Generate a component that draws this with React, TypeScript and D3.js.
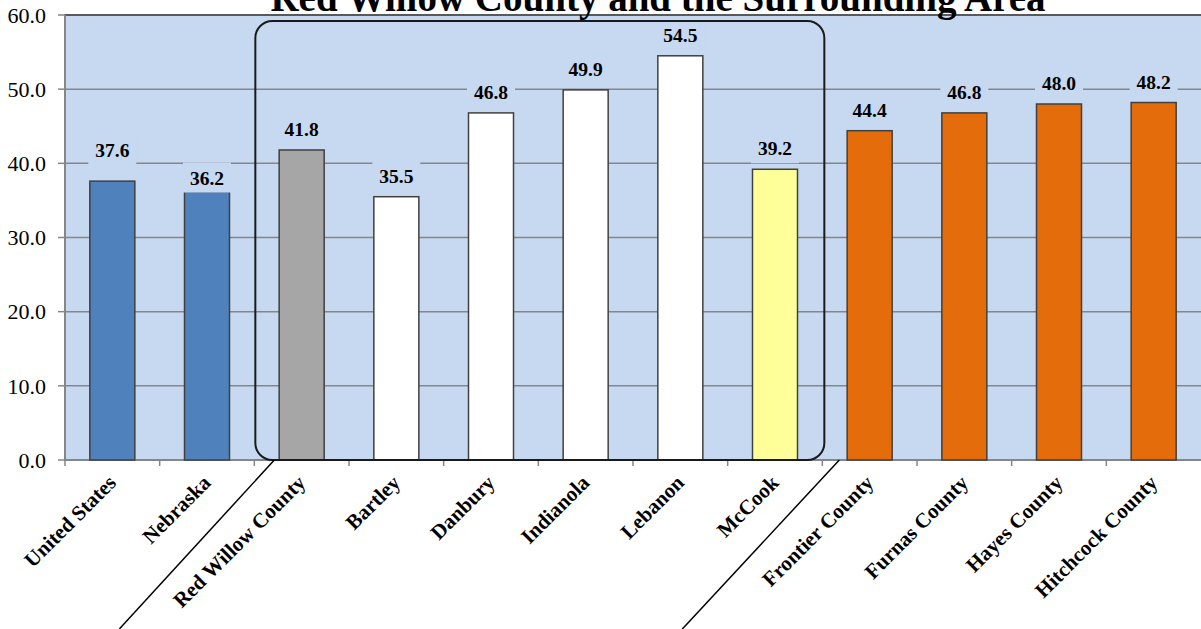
import React from "react";
import * as d3 from "d3";

const categories = [
  "United States", "Nebraska", "Red Willow County", "Bartley", "Danbury",
  "Indianola", "Lebanon", "McCook", "Frontier County", "Furnas County",
  "Hayes County", "Hitchcock County",
];
const values = [37.6, 36.2, 41.8, 35.5, 46.8, 49.9, 54.5, 39.2, 44.4, 46.8, 48.0, 48.2];
const barColors = [
  "#4f81bd", "#4f81bd", "#a6a6a6", "#ffffff", "#ffffff", "#ffffff", "#ffffff",
  "#ffff99", "#e46c0a", "#e46c0a", "#e46c0a", "#e46c0a",
];
const yTicks = [0, 10, 20, 30, 40, 50, 60];
// extra vertical nudge (px) for a few labels that were moved by hand in the original
const labelNudge = [-10, 7, 0, 0, 0, 0, 0, 0, 0, 0, 0, 0];
const title = "Red Willow County and the Surrounding Area";

const W = 1201;
const H = 629;
const M = { left: 65, right: 0, top: 15, bottom: 169 };
const FONT = "'Times New Roman', 'Liberation Serif', serif";
const PLOT_BG = "#c6d9f1";

export default function App() {
  const x = d3.scaleBand<string>().domain(categories).range([M.left, W - M.right]).paddingInner(0).paddingOuter(0);
  const y = d3.scaleLinear().domain([0, 60]).range([H - M.bottom, M.top]);
  const bw = 45;
  const y0 = y(0);

  const boxLeft = x(categories[2])! + 1;
  const boxRight = x(categories[8])! + 2;
  const boxTop = 21;

  return (
    <svg width={W} height={H} style={{ position: "absolute", left: 0, top: 0, display: "block" }} fontFamily={FONT}>
      <rect width={W} height={H} fill="#ffffff" />
      {/* plot area */}
      <rect x={M.left} y={M.top} width={W - M.left + 5} height={y0 - M.top} fill={PLOT_BG} stroke="#7f7f7f" strokeWidth={2} />
      {/* gridlines */}
      {yTicks.map((t) => (
        <line key={"g" + t} x1={M.left} x2={W} y1={y(t)} y2={y(t)} stroke="#868686" strokeWidth={1.5} />
      ))}
      {/* top border darker */}
      <line x1={M.left} x2={W} y1={M.top} y2={M.top} stroke="#595959" strokeWidth={2} />
      {/* y axis */}
      <line x1={M.left} x2={M.left} y1={M.top} y2={y0} stroke="#868686" strokeWidth={2} />
      {yTicks.map((t) => (
        <g key={"yt" + t}>
          <line x1={M.left - 7} x2={M.left} y1={y(t)} y2={y(t)} stroke="#868686" strokeWidth={1.5} />
          <text x={46} y={y(t)} dy="0.35em" textAnchor="end" fontSize={22} fill="#000">
            {t.toFixed(1)}
          </text>
        </g>
      ))}
      {/* x axis */}
      <line x1={M.left} x2={W} y1={y0} y2={y0} stroke="#868686" strokeWidth={2} />
      {categories.map((c, i) => (
        <line key={"xt" + i} x1={x(c)!} x2={x(c)!} y1={y0} y2={y0 + 6} stroke="#868686" strokeWidth={1.5} />
      ))}
      {/* bars */}
      {categories.map((c, i) => {
        const cx = x(c)! + x.bandwidth() / 2;
        return (
          <rect key={"b" + i} x={cx - bw / 2} y={y(values[i])} width={bw} height={y0 - y(values[i])}
            fill={barColors[i]} stroke="#404040" strokeWidth={1.5} />
        );
      })}
      {/* data labels */}
      {categories.map((c, i) => {
        const cx = x(c)! + x.bandwidth() / 2;
        const base = y(values[i]) - 14 + labelNudge[i];
        return (
          <g key={"l" + i}>
            <rect x={cx - 24} y={base - 22} width={48} height={30} fill={PLOT_BG} />
            <text x={cx} y={base} textAnchor="middle" fontSize={19.5} fontWeight="bold" fill="#000">
              {values[i].toFixed(1)}
            </text>
          </g>
        );
      })}
      {/* rounded box around Red Willow County communities */}
      <rect x={boxLeft} y={boxTop} width={boxRight - boxLeft} height={y0 - boxTop} rx={17} ry={17}
        fill="none" stroke="#1a1a1a" strokeWidth={2} />
      {/* diagonal leader lines */}
      <line x1={boxLeft + 19} y1={y0} x2={boxLeft + 19 - 155} y2={H} stroke="#000" strokeWidth={1.5} />
      <line x1={boxRight + 15} y1={y0} x2={boxRight + 15 - 157} y2={H} stroke="#000" strokeWidth={1.5} />
      {/* category labels */}
      {categories.map((c, i) => {
        const cx = x(c)! + x.bandwidth() / 2;
        return (
          <text key={"c" + i} transform={`translate(${cx + 5},${y0 + 24}) rotate(-45)`} textAnchor="end"
            fontSize={21} fontWeight="bold" fill="#000">
            {c}
          </text>
        );
      })}
      {/* title */}
      <text x={658} y={11} textAnchor="middle" fontSize={39} fontWeight="bold" fill="#000">
        {title}
      </text>
    </svg>
  );
}
